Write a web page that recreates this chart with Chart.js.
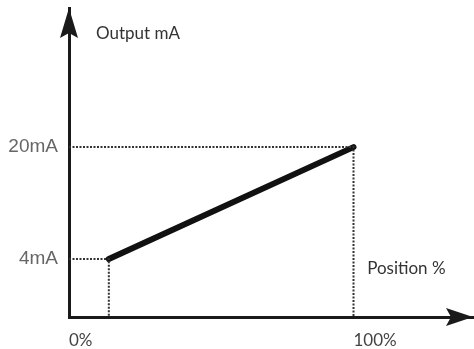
<!DOCTYPE html>
<html>
<head>
<meta charset="utf-8">
<script src="https://cdn.jsdelivr.net/npm/chart.js@4.4.0/dist/chart.umd.min.js"></script>
<style>
  html, body { margin: 0; padding: 0; background: #fff; }
  #wrap { width: 474px; height: 349px; }
</style>
</head>
<body>
<div id="wrap"><canvas id="chart"></canvas></div>
<script>
// Output signal vs position
const positions = [14, 100];       // position %, start and end of the ramp
const outputs = [4, 20];           // mA
const yTicks = [4, 20];
const yTickLabels = ["4mA", "20mA"];
const xTicks = [0, 100];
const xTickLabels = ["0%", "100%"];
const yBottom = -4.3;

const ramp = positions.map((p, i) => ({ x: p, y: outputs[i] }));

// dotted guides from each end of the ramp to both axes
const guideHigh = [
    { x: 0, y: outputs[1] },
    { x: positions[1], y: outputs[1] },
    { x: positions[1], y: yBottom }
];
const guideLow = [
    { x: 0, y: outputs[0] },
    { x: positions[0], y: outputs[0] },
    { x: positions[0], y: yBottom }
];

// arrowheads and axis captions
const decor = {
    id: "decor",
    afterDraw(chart) {
        const ctx = chart.ctx;
        const a = chart.chartArea;
        const xs = chart.scales.x;
        const ys = chart.scales.y;
        ctx.save();
        ctx.fillStyle = "#1a1a1a";
        // y arrow
        ctx.beginPath();
        ctx.moveTo(a.left, a.top);
        ctx.lineTo(a.left + 9, a.top + 30);
        ctx.lineTo(a.left, a.top + 25);
        ctx.lineTo(a.left - 9, a.top + 30);
        ctx.closePath();
        ctx.fill();
        // x arrow
        ctx.beginPath();
        ctx.moveTo(a.right, a.bottom);
        ctx.lineTo(a.right - 27, a.bottom - 9);
        ctx.lineTo(a.right - 22, a.bottom);
        ctx.lineTo(a.right - 27, a.bottom + 9);
        ctx.closePath();
        ctx.fill();

        ctx.fillStyle = "#333";
        ctx.font = "17px Lato";
        ctx.textBaseline = "middle";
        ctx.textAlign = "left";
        ctx.fillText("Output mA", xs.getPixelForValue(9.5), ys.getPixelForValue(36.3));
        ctx.fillText("Position %", xs.getPixelForValue(104.8), ys.getPixelForValue(2.6));
        ctx.restore();
    }
};

new Chart(document.getElementById("chart"), {
    type: "scatter",
    data: {
        datasets: [
            {
                data: guideHigh,
                showLine: true,
                borderColor: "#333",
                borderWidth: 2,
                borderDash: [2, 1.5],
                pointRadius: 0
            },
            {
                data: guideLow,
                showLine: true,
                borderColor: "#333",
                borderWidth: 2,
                borderDash: [2, 1.5],
                pointRadius: 0
            },
            {
                data: ramp,
                showLine: true,
                borderColor: "#111",
                borderWidth: 6,
                borderCapStyle: "round",
                pointRadius: 0
            }
        ]
    },
    options: {
        responsive: true,
        maintainAspectRatio: false,
        animation: false,
        layout: { padding: { top: 8, right: 1, left: 0, bottom: 0 } },
        plugins: {
            legend: { display: false },
            tooltip: { enabled: false }
        },
        scales: {
            x: {
                type: "linear",
                min: 0,
                max: 142,
                grid: { display: false, drawTicks: false },
                border: { display: true, color: "#1a1a1a", width: 3 },
                afterBuildTicks: s => { s.ticks = xTicks.map(v => ({ value: v })); },
                afterFit: s => {
                    s.height = 32;
                    s.paddingLeft = 0;
                    s.paddingRight = 0;
                },
                ticks: {
                    align: "start",
                    padding: 13,
                    color: "#444",
                    font: { family: "Lato", size: 17 },
                    callback: (v) => xTickLabels[xTicks.indexOf(v)]
                }
            },
            y: {
                type: "linear",
                min: yBottom,
                max: 39.9,
                grid: { display: false, drawTicks: false },
                border: { display: true, color: "#1a1a1a", width: 3 },
                afterBuildTicks: s => { s.ticks = yTicks.map(v => ({ value: v })); },
                afterFit: s => {
                    s.width = 69;
                    s.paddingTop = 0;
                    s.paddingBottom = 0;
                },
                ticks: {
                    padding: 11,
                    color: "#666",
                    font: { family: "Liberation Sans", size: 19 },
                    callback: (v) => yTickLabels[yTicks.indexOf(v)]
                }
            }
        }
    },
    plugins: [decor]
});
</script>
</body>
</html>
